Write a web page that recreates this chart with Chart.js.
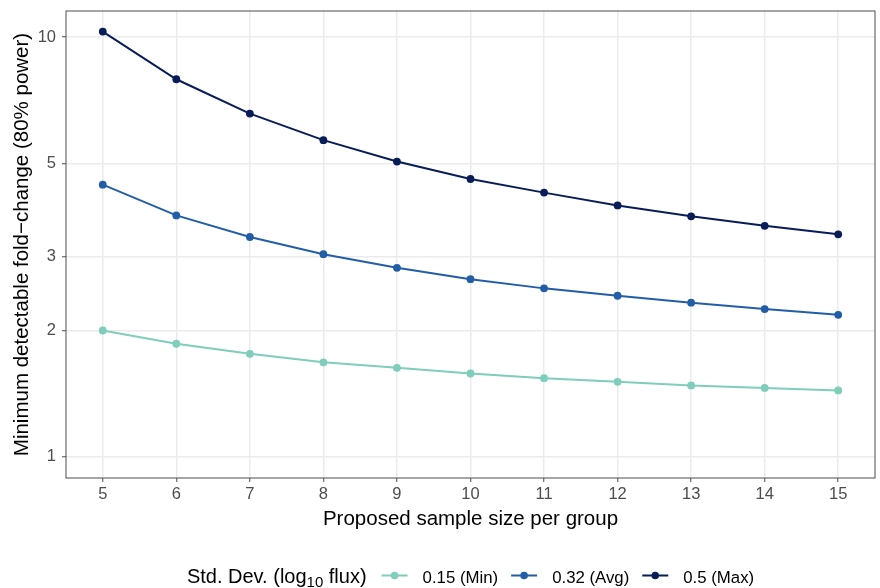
<!DOCTYPE html>
<html>
<head>
<meta charset="utf-8">
<title>Minimum detectable fold-change</title>
<script src="https://cdn.jsdelivr.net/npm/chart.js@4.4.1/dist/chart.umd.min.js"></script>
<style>
  html, body { margin: 0; padding: 0; background: #fff; }
  #wrap { width: 880px; height: 588px; }
</style>
</head>
<body>
<div id="wrap"><canvas id="powerChart" width="880" height="588"></canvas></div>
<script>
// Proposed sample size per group (x axis)
const sampleSizes = [5, 6, 7, 8, 9, 10, 11, 12, 13, 14, 15];

// Minimum detectable fold-change, one array per std. dev.
const sdMin = [2.00, 1.86, 1.76, 1.68, 1.63, 1.58, 1.54, 1.51, 1.48, 1.46, 1.44];
const sdAvg = [4.45, 3.76, 3.34, 3.04, 2.82, 2.65, 2.52, 2.42, 2.33, 2.25, 2.18];
const sdMax = [10.3, 7.93, 6.57, 5.68, 5.05, 4.59, 4.26, 3.97, 3.74, 3.55, 3.39];

const seriesLabels = ["0.15 (Min)", "0.32 (Avg)", "0.5 (Max)"];
const seriesColors = ["#7fcdbb", "#225ea8", "#081d58"];

const xTicks = [5, 6, 7, 8, 9, 10, 11, 12, 13, 14, 15];
const yTicks = [1, 2, 3, 5, 10];

const xTitle = "Proposed sample size per group";
const yTitle = "Minimum detectable fold\u2212change (80% power)";

const FONT = '"Liberation Sans", Arial, Helvetica, sans-serif';

function toPoints(values) {
    return sampleSizes.map((x, i) => ({ x: x, y: values[i] }));
}

// draws panel border, axis titles and the bottom legend (ggplot style)
const ggDecor = {
    id: "ggDecor",
    afterDraw(chart) {
        const ctx = chart.ctx;
        const area = chart.chartArea;
        const midX = (area.left + area.right) / 2;
        ctx.save();

        // panel border
        ctx.strokeStyle = "#4d4d4d";
        ctx.lineWidth = 1;
        ctx.strokeRect(area.left, area.top, area.right - area.left, area.bottom - area.top);

        // axis titles
        ctx.fillStyle = "#000";
        ctx.font = "20.5px " + FONT;
        ctx.textAlign = "center";
        ctx.textBaseline = "alphabetic";
        ctx.fillText(xTitle, midX, 525);

        ctx.save();
        ctx.translate(28, (area.top + area.bottom) / 2);
        ctx.rotate(-Math.PI / 2);
        ctx.fillText(yTitle, 0, 0);
        ctx.restore();

        // legend
        const baseY = 583;
        const keyY = 575.5;
        const titleFont = "20px " + FONT;
        const subFont = "15px " + FONT;
        const labelFont = "16.8px " + FONT;

        ctx.textAlign = "left";
        ctx.font = titleFont;
        const t1 = "Std. Dev. (log";
        const t3 = " flux)";
        const w1 = ctx.measureText(t1).width;
        const w3 = ctx.measureText(t3).width;
        ctx.font = subFont;
        const wSub = ctx.measureText("10").width;
        ctx.font = labelFont;
        const labelWidths = seriesLabels.map(l => ctx.measureText(l).width);

        const titleW = w1 + wSub + w3;
        let total = titleW;
        labelWidths.forEach((w, i) => { total += (i === 0 ? 28 : 26) + 28 + w; });

        let x = midX - total / 2;
        ctx.fillStyle = "#000";
        ctx.font = titleFont;
        ctx.fillText(t1, x, baseY);
        x += w1;
        ctx.font = subFont;
        ctx.fillText("10", x, baseY + 4);
        x += wSub;
        ctx.font = titleFont;
        ctx.fillText(t3, x, baseY);
        x += w3;

        seriesLabels.forEach((label, i) => {
            x += (i === 0 ? 28 : 26);
            ctx.strokeStyle = seriesColors[i];
            ctx.lineWidth = 2;
            ctx.beginPath();
            ctx.moveTo(x - 13, keyY);
            ctx.lineTo(x + 13, keyY);
            ctx.stroke();
            ctx.fillStyle = seriesColors[i];
            ctx.beginPath();
            ctx.arc(x, keyY, 3.8, 0, Math.PI * 2);
            ctx.fill();

            x += 28;
            ctx.fillStyle = "#000";
            ctx.font = labelFont;
            ctx.fillText(label, x, baseY);
            x += labelWidths[i];
        });

        ctx.restore();
    }
};

const datasets = [sdMin, sdAvg, sdMax].map((values, i) => ({
    label: seriesLabels[i],
    data: toPoints(values),
    borderColor: seriesColors[i],
    backgroundColor: seriesColors[i],
    pointBackgroundColor: seriesColors[i],
    pointBorderWidth: 0,
    pointRadius: 3.9,
    borderWidth: 2,
    tension: 0,
    fill: false
}));

const tickFont = { family: FONT, size: 16.5 };

new Chart(document.getElementById("powerChart"), {
    type: "line",
    data: { datasets: datasets },
    options: {
        responsive: false,
        animation: false,
        devicePixelRatio: 1,
        layout: { padding: { left: 0, right: 5, top: 11, bottom: 0 } },
        plugins: {
            legend: { display: false },
            tooltip: { enabled: false }
        },
        scales: {
            x: {
                type: "linear",
                min: 4.5,
                max: 15.5,
                afterBuildTicks: scale => { scale.ticks = xTicks.map(v => ({ value: v })); },
                afterFit: scale => {
                    scale.height = 110;
                    scale.paddingLeft = 0;
                    scale.paddingRight = 0;
                },
                grid: { color: "#ebebeb", lineWidth: 1.5, tickColor: "#4d4d4d", tickWidth: 1, tickLength: 4 },
                border: { display: false },
                ticks: { color: "#4d4d4d", font: tickFont, padding: 3, maxRotation: 0, callback: v => String(v) }
            },
            y: {
                type: "logarithmic",
                min: 0.891,
                max: 11.53,
                afterBuildTicks: scale => { scale.ticks = yTicks.map(v => ({ value: v })); },
                afterFit: scale => {
                    scale.width = 66;
                    scale.paddingTop = 0;
                    scale.paddingBottom = 0;
                },
                grid: { color: "#ebebeb", lineWidth: 1.5, tickColor: "#4d4d4d", tickWidth: 1, tickLength: 4 },
                border: { display: false },
                ticks: { color: "#4d4d4d", font: tickFont, padding: 6, callback: v => String(v) }
            }
        }
    },
    plugins: [ggDecor]
});
</script>
</body>
</html>
